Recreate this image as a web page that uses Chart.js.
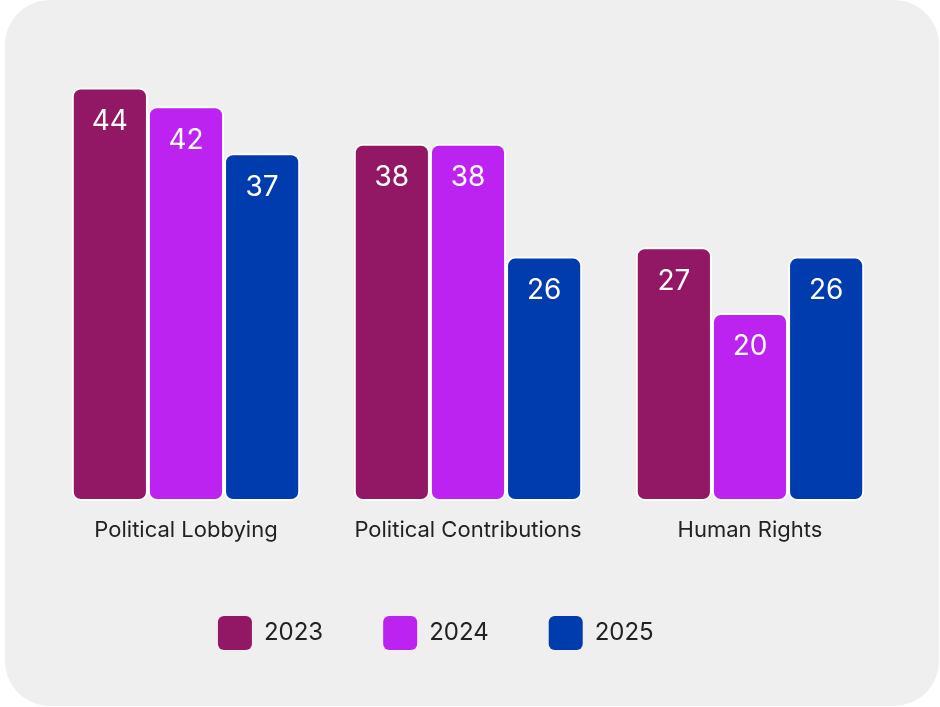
<!DOCTYPE html>
<html lang="en">
<head>
    <meta charset="UTF-8">
    <title>Bars by year</title>
    <script src="https://cdn.jsdelivr.net/npm/chart.js"></script>
    <style>
        body {
            margin: 0;
            background: #ffffff;
            font-family: 'Inter', sans-serif;
        }

        .card {
            position: absolute;
            left: 5px;
            top: 0;
            width: 934px;
            height: 706px;
            background: #efefef;
            border-radius: 45px;
        }

        #chart {
            position: absolute;
            left: 0;
            top: 0;
        }
    </style>
</head>
<body>
    <div class="card"></div>
    <canvas id="chart" width="940" height="707"></canvas>

    <script>
        const categories = ['Political Lobbying', 'Political Contributions', 'Human Rights'];
        const years = ['2023', '2024', '2025'];
        const values2023 = [44, 38, 27];
        const values2024 = [42, 38, 20];
        const values2025 = [37, 26, 26];
        const colors = ['#921865', '#bc23f0', '#003cae'];

        // white numbers inside the top of each bar
        const barValues = {
            id: 'barValues',
            afterDatasetsDraw(chart) {
                const ctx = chart.ctx;
                ctx.save();
                ctx.fillStyle = '#ffffff';
                ctx.font = '400 28px Inter, sans-serif';
                ctx.textAlign = 'center';
                ctx.textBaseline = 'middle';
                chart.data.datasets.forEach((ds, i) => {
                    chart.getDatasetMeta(i).data.forEach((bar, j) => {
                        ctx.fillText(ds.data[j], bar.x, bar.y + 34);
                    });
                });
                ctx.restore();
            }
        };

        const seriesValues = [values2023, values2024, values2025];

        new Chart(document.getElementById('chart'), {
            type: 'bar',
            data: {
                labels: categories,
                datasets: years.map((y, i) => ({
                    label: y,
                    data: seriesValues[i],
                    backgroundColor: colors[i],
                    borderColor: '#ffffff',
                    borderWidth: 2,
                    borderRadius: 9,
                    borderSkipped: false,
                    barPercentage: 1,
                    categoryPercentage: 0.81
                }))
            },
            options: {
                responsive: false,
                animation: false,
                layout: {
                    padding: { left: 45, right: 49, top: 78, bottom: 47 }
                },
                plugins: {
                    tooltip: { enabled: false },
                    legend: {
                        position: 'bottom',
                        labels: {
                            boxWidth: 34,
                            boxHeight: 34,
                            padding: 60,
                            useBorderRadius: true,
                            borderRadius: 6,
                            color: '#222222',
                            font: { family: 'Inter', size: 24 },
                            generateLabels(chart) {
                                const items = Chart.defaults.plugins.legend.labels.generateLabels(chart)
                                    .map(item => ({ ...item, lineWidth: 0, strokeStyle: 'transparent' }));
                                // legend row sits a bit left of centre in the original
                                items[items.length - 1].text += '\u2003\u2003\u2002\u2009';
                                return items;
                            }
                        }
                    }
                },
                scales: {
                    x: {
                        grid: { display: false },
                        border: { display: false },
                        ticks: {
                            padding: 8,
                            color: '#222222',
                            font: { family: 'Inter', size: 22 }
                        },
                        afterFit(axis) { axis.height = 55; }
                    },
                    y: {
                        display: false,
                        min: 0,
                        max: 45
                    }
                }
            },
            plugins: [barValues]
        });
    </script>
</body>
</html>
